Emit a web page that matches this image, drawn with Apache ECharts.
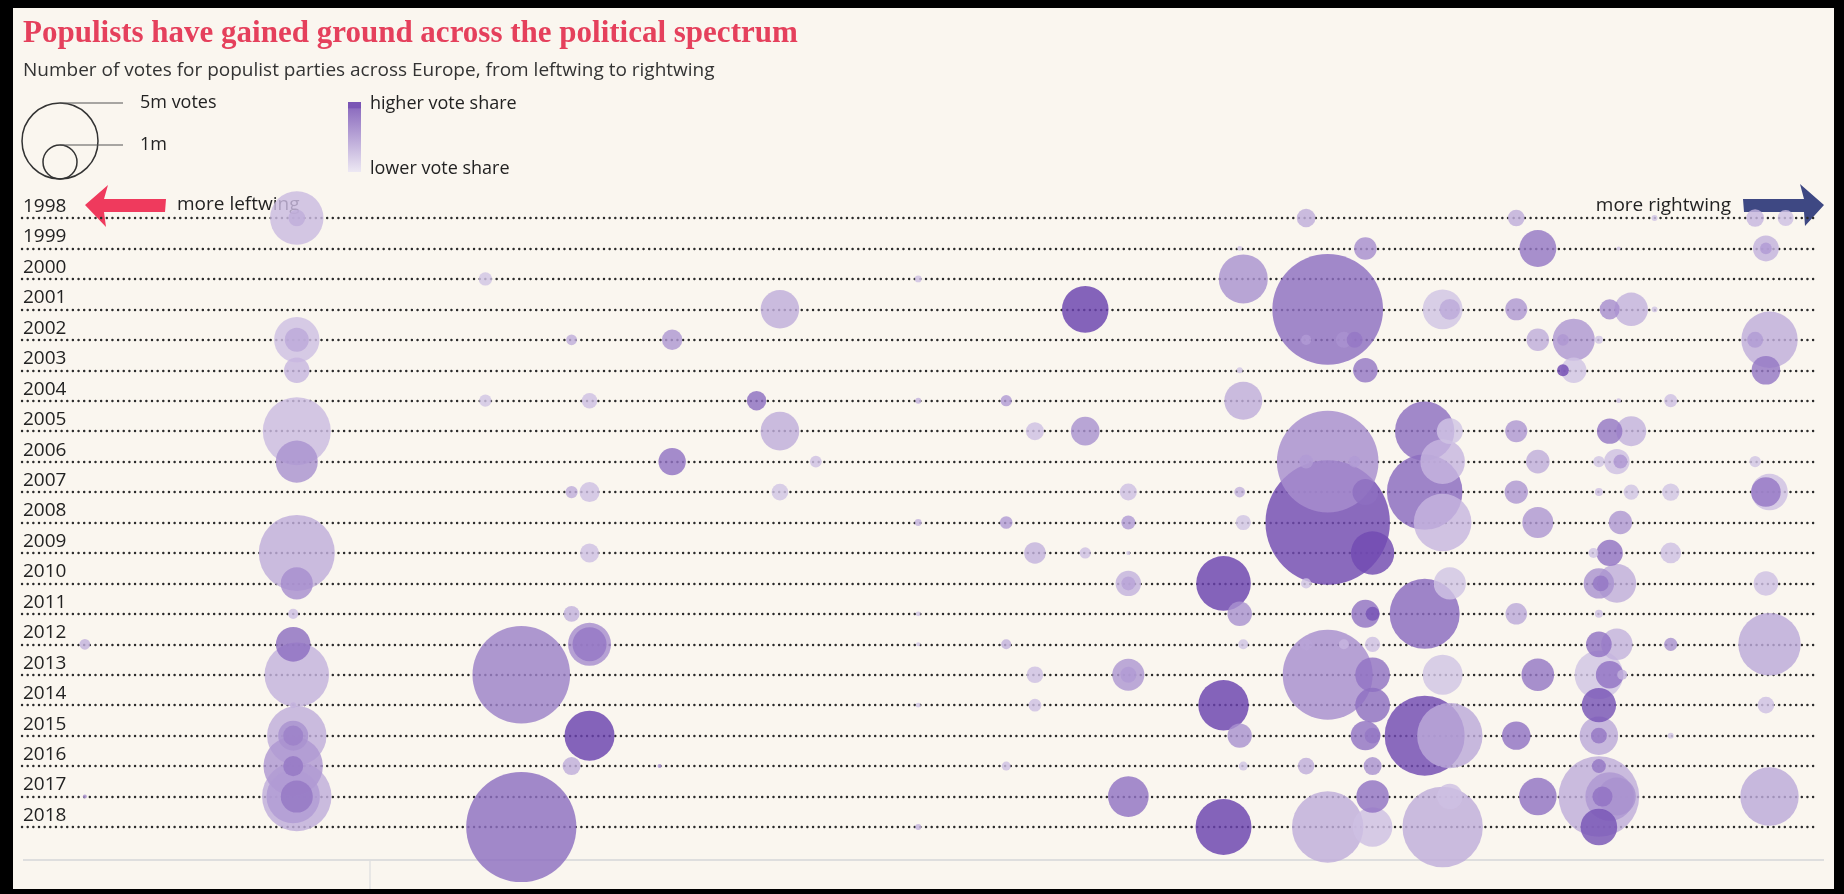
<!DOCTYPE html>
<html><head><meta charset="utf-8">
<script src="https://cdn.jsdelivr.net/npm/echarts@6/dist/echarts.min.js"></script>
<style>
html,body{margin:0;padding:0;background:#000;width:1844px;height:894px;overflow:hidden}
#bg{position:absolute;left:13px;top:8px;width:1821px;height:881px;background:#faf6ef}
#chart{position:absolute;left:0;top:0;width:1844px;height:894px}
</style></head><body><div id="bg"></div><div id="chart"></div>
<script>
const years = [1998,1999,2000,2001,2002,2003,2004,2005,2006,2007,2008,2009,2010,2011,2012,2013,2014,2015,2016,2017,2018];
// each entry: [position on left(0)–right(100) spectrum, votes (millions), vote share (%)]
const p1998 = [[15.3,2.47,5],[15.3,0.24,8],[71.5,0.30,8],[83.2,0.24,8],[90.9,0.03,3],[96.5,0.27,6],[98.2,0.22,4]];
const p1999 = [[67.8,0.02,3],[74.8,0.44,15],[84.4,1.18,20],[88.9,0.014,3],[97.1,0.58,7],[97.1,0.12,12]];
const p2000 = [[25.8,0.155,3],[49.9,0.04,4],[68.0,2.08,14]];
const p2001 = [[42.2,1.28,8],[59.2,1.88,32],[72.7,10.6,22],[79.1,1.38,3],[79.5,0.37,9],[83.2,0.42,13],[88.4,0.35,15],[89.6,0.97,7],[90.9,0.03,3]];
const p2002 = [[15.3,1.78,4],[15.3,0.5,9],[30.6,0.1,8],[36.2,0.36,13],[71.5,0.09,12],[73.6,0.22,14],[74.2,0.22,20],[84.4,0.44,8],[85.8,0.12,13],[86.4,1.53,13],[87.8,0.055,3],[97.3,2.75,8],[96.5,0.22,12]];
const p2003 = [[15.3,0.56,6],[67.8,0.03,3],[74.8,0.52,20],[85.8,0.12,30],[86.4,0.56,3],[97.1,0.71,20]];
const p2004 = [[25.8,0.13,3],[31.6,0.21,4],[40.9,0.33,22],[49.9,0.03,7],[54.8,0.11,12],[68.0,1.25,8],[88.9,0.02,4],[91.8,0.15,4]];
const p2005 = [[15.3,4.0,5],[42.2,1.29,8],[56.4,0.28,4],[59.2,0.71,14],[78.1,3.05,22],[79.5,0.58,3],[83.2,0.42,13],[88.4,0.56,20],[89.6,0.78,7]];
const p2006 = [[15.3,1.53,14],[36.2,0.65,21],[44.2,0.12,4],[72.7,8.93,15],[71.5,0.17,12],[74.2,0.12,12],[79.1,1.72,6],[84.4,0.48,8],[87.8,0.11,3],[88.8,0.56,4],[89.0,0.17,13],[96.5,0.11,3]];
const p2007 = [[30.6,0.13,8],[31.6,0.35,4],[42.2,0.24,3],[61.6,0.25,4],[67.8,0.1,7],[74.8,0.58,22],[78.1,4.94,23],[83.2,0.47,13],[87.8,0.055,4],[89.6,0.2,3],[91.8,0.26,3],[97.3,1.16,4],[97.1,0.76,20]];
const p2008 = [[49.9,0.04,7],[54.8,0.14,12],[61.6,0.17,12],[68.0,0.2,3],[72.7,13.4,30],[79.1,2.87,6],[84.4,0.83,13],[89.0,0.47,13]];
const p2009 = [[15.3,5.0,8],[31.6,0.31,4],[56.4,0.4,7],[59.2,0.11,4],[61.6,0.014,3],[75.2,1.63,30],[87.5,0.087,3],[88.4,0.6,21],[91.8,0.37,4]];
const p2010 = [[15.3,0.89,15],[61.6,0.56,7],[61.6,0.17,10],[66.9,2.58,32],[71.5,0.09,3],[79.5,0.89,3],[87.8,0.8,14],[88.8,1.29,8],[87.9,0.22,20],[97.1,0.52,4]];
const p2011 = [[15.1,0.09,4],[30.6,0.22,7],[49.9,0.02,3],[67.8,0.52,14],[74.8,0.68,21],[75.2,0.17,28],[78.1,4.24,23],[83.2,0.4,9],[87.8,0.055,4]];
const p2012 = [[3.5,0.1,7],[15.1,1.04,22],[31.6,1.6,15],[31.6,1.0,20],[49.9,0.014,3],[54.8,0.087,7],[68.0,0.087,3],[71.5,0.12,10],[73.6,0.087,6],[75.2,0.2,4],[87.8,0.57,21],[88.8,0.86,7],[91.8,0.15,14],[97.3,3.37,9]];
const p2013 = [[15.3,3.6,7],[27.8,8.24,18],[56.4,0.24,4],[61.6,0.89,13],[61.6,0.22,12],[72.7,7.0,15],[75.2,1.04,21],[79.1,1.38,3],[84.4,0.92,20],[87.8,2.04,3],[88.4,0.66,21],[89.1,0.087,7]];
const p2014 = [[15.1,0.03,7],[49.9,0.02,3],[56.4,0.14,4],[66.9,2.2,32],[75.2,1.04,22],[87.8,1.02,28],[97.1,0.24,4]];
const p2015 = [[15.3,3.05,8],[15.1,0.78,14],[15.1,0.35,18],[31.6,2.16,32],[67.8,0.51,14],[74.8,0.75,21],[75.2,0.22,20],[78.1,5.54,30],[79.5,3.7,9],[83.2,0.7,21],[87.8,1.28,9],[87.8,0.22,20],[91.8,0.03,3]];
const p2016 = [[15.1,3.05,13],[15.1,0.35,20],[30.6,0.28,8],[35.5,0.014,14],[54.8,0.07,4],[68.0,0.07,3],[71.5,0.24,8],[75.2,0.28,14],[87.8,0.17,20]];
const p2017 = [[15.3,4.17,8],[15.1,2.47,12],[15.3,0.89,20],[3.5,0.014,14],[61.6,1.43,21],[75.2,0.92,21],[79.5,0.56,4],[84.4,1.22,21],[87.8,5.62,8],[88.4,2.04,13],[88.8,1.25,14],[88.0,0.35,21],[97.3,2.95,9]];
const p2018 = [[27.8,10.5,22],[49.9,0.03,7],[66.9,2.71,32],[72.7,4.41,8],[75.2,1.36,4],[79.1,5.59,8],[87.8,1.16,28]];

const rows = [p1998,p1999,p2000,p2001,p2002,p2003,p2004,p2005,p2006,p2007,p2008,p2009,p2010,p2011,p2012,p2013,p2014,p2015,p2016,p2017,p2018];
const data = [];
rows.forEach((r, i) => r.forEach(d => data.push([d[0], years[i], d[1], d[2]])));
data.sort((a, b) => b[2] - a[2]);

const FONT = '"Open Sans", sans-serif';
const chart = echarts.init(document.getElementById('chart'), null, {renderer: 'canvas'});
chart.setOption({
  animation: false,
  backgroundColor: 'transparent',
  grid: {left: 22, top: 218, width: 1796, height: 609, containLabel: false},
  xAxis: {type: 'value', min: 0, max: 100, show: false},
  yAxis: {
    type: 'value', min: 1998, max: 2018, interval: 1, inverse: true,
    axisLine: {show: false}, axisTick: {show: false},
    axisLabel: {inside: true, margin: 1, fontFamily: FONT, fontSize: 19, color: '#222',
      verticalAlign: 'bottom', lineHeight: 23, formatter: v => String(v)},
    splitLine: {show: true, lineStyle: {color: '#2b2b2b', width: 2.4, type: [0.1, 5.55], cap: 'round'}}
  },
  visualMap: {
    type: 'continuous', show: false, dimension: 3, min: 0, max: 32, seriesIndex: 0,
    inRange: {color: ['#dcd1ea', '#6a42ae']}
  },
  series: [{
    type: 'scatter', data: data,
    symbolSize: v => 34 * Math.sqrt(v[2]),
    itemStyle: {opacity: 0.82},
    z: 3
  }],
  graphic: [
    {type: 'text', left: 23, top: 18, style: {text: 'Populists have gained ground across the political spectrum',
      font: 'bold 31px "Liberation Serif", serif', fill: '#e5405c'}},
    {type: 'text', left: 23, top: 61, style: {text: 'Number of votes for populist parties across Europe, from leftwing to rightwing',
      font: '19px ' + FONT, fill: '#333'}},
    {type: 'circle', shape: {cx: 60, cy: 141, r: 38}, style: {fill: 'none', stroke: '#333', lineWidth: 1.5}},
    {type: 'circle', shape: {cx: 60, cy: 162, r: 17}, style: {fill: 'none', stroke: '#333', lineWidth: 1.5}},
    {type: 'line', shape: {x1: 60, y1: 103, x2: 123, y2: 103}, style: {stroke: '#555', lineWidth: 1}},
    {type: 'line', shape: {x1: 60, y1: 145, x2: 123, y2: 145}, style: {stroke: '#555', lineWidth: 1}},
    {type: 'text', x: 140, y: 103, style: {text: '5m votes', font: '18px ' + FONT, fill: '#222', verticalAlign: 'middle'}},
    {type: 'text', x: 140, y: 145, style: {text: '1m', font: '18px ' + FONT, fill: '#222', verticalAlign: 'middle'}},
    {type: 'rect', shape: {x: 348, y: 102, width: 13, height: 70}, style: {fill: new echarts.graphic.LinearGradient(0, 0, 0, 1, [
      {offset: 0, color: '#7a55b5'}, {offset: 0.08, color: '#7a55b5'}, {offset: 0.1, color: '#8e6fc0'}, {offset: 1, color: '#ede8f3'}])}},
    {type: 'text', x: 370, y: 104, style: {text: 'higher vote share', font: '18px ' + FONT, fill: '#222', verticalAlign: 'middle'}},
    {type: 'text', x: 370, y: 169, style: {text: 'lower vote share', font: '18px ' + FONT, fill: '#222', verticalAlign: 'middle'}},
    {type: 'polygon', shape: {points: [[85,205],[108,185],[104,199],[166,199],[165,212],[104,212],[106,227]]}, style: {fill: '#ef3a5d'}},
    {type: 'text', x: 177, y: 205, style: {text: 'more leftwing', font: '19px ' + FONT, fill: '#222', verticalAlign: 'middle'}},
    {type: 'polygon', shape: {points: [[1824,205],[1800,184],[1804,199],[1743,199],[1744,212],[1804,212],[1805,226]]}, style: {fill: '#3e4883'}},
    {type: 'text', x: 1731, y: 206, style: {text: 'more rightwing', font: '19px ' + FONT, fill: '#222', verticalAlign: 'middle', align: 'right'}},
    {type: 'line', shape: {x1: 23, y1: 860, x2: 1824, y2: 860}, style: {stroke: '#dedede', lineWidth: 2}},
    {type: 'line', shape: {x1: 370, y1: 861, x2: 370, y2: 889}, style: {stroke: '#e2e2e2', lineWidth: 1.5}}
  ]
});
</script></body></html>
